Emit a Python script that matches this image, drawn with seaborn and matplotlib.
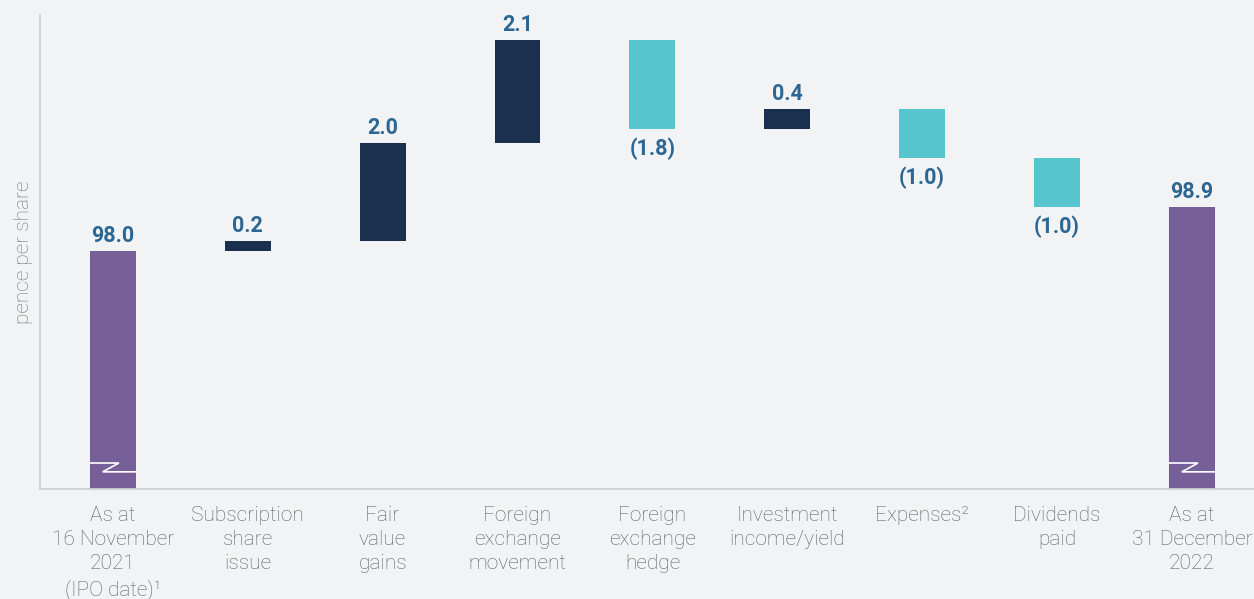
import numpy as np
import pandas as pd
import matplotlib
matplotlib.use("Agg")
import matplotlib.pyplot as plt
import seaborn as sns

# waterfall data (pence per share)
categories = ["As at\n16 November\n2021\n(IPO date)¹", "Subscription\nshare\nissue",
              "Fair\nvalue\ngains", "Foreign\nexchange\nmovement", "Foreign\nexchange\nhedge",
              "Investment\nincome/yield", "Expenses²", "Dividends\npaid",
              "As at\n31 December\n2022"]
changes = [98.0, 0.2, 2.0, 2.1, -1.8, 0.4, -1.0, -1.0, 98.9]
kinds = ["total", "up", "up", "up", "down", "up", "down", "down", "total"]
labels = ["98.0", "0.2", "2.0", "2.1", "(1.8)", "0.4", "(1.0)", "(1.0)", "98.9"]

colors = {"total": "#77609a", "up": "#1b2f4e", "down": "#56c5cd"}
bg = "#f2f3f5"

sns.set_theme(style="white")
plt.rcParams["font.family"] = ["Roboto", "DejaVu Sans"]
plt.rcParams["figure.facecolor"] = bg
plt.rcParams["axes.facecolor"] = bg

# floating bar bases
bases = []
running = 0.0
for v, k in zip(changes, kinds):
    if k == "total":
        bases.append(0.0)
        running = v
    else:
        bases.append(running if v > 0 else running + v)
        running += v
heights = [abs(v) for v in changes]

fig = plt.figure(figsize=(12.54, 5.99), dpi=100)
ax = fig.add_axes([40 / 1254, 110 / 599, 1 - 40 / 1254, 474 / 599])

for cat, h, b, k in zip(categories, heights, bases, kinds):
    sns.barplot(x=[cat], y=[h], bottom=b, order=categories, color=colors[k],
                width=0.34, errorbar=None, saturation=1, linewidth=0, ax=ax)

ylo, yhi = 93.15, 102.82
ax.set_ylim(ylo, yhi)
ax.set_xlim(-0.54, 8.46)

# value labels
for i, (h, b, k, lab) in enumerate(zip(heights, bases, kinds, labels)):
    top = b + h
    if k == "down":
        ax.annotate(lab, (i, b), xytext=(0, -6), textcoords="offset points",
                    ha="center", va="top", fontsize=15.5, fontweight="bold", color="#2c6693")
    else:
        ax.annotate(lab, (i, top), xytext=(0, 3), textcoords="offset points",
                    ha="center", va="bottom", fontsize=15.5, fontweight="bold", color="#2c6693")

# axis break marks on the total bars
for i in [0, 8]:
    y1, y2 = ylo + 0.53, ylo + 0.35
    ax.plot([i - 0.17, i + 0.045, i - 0.075, i + 0.17], [y1, y1, y2, y2],
            color="white", lw=1.2, solid_joinstyle="miter")

ax.set_yticks([])
ax.set_xlabel("")
ax.set_ylabel("pence per share", fontsize=15, color="#767676", fontweight="light", labelpad=5)
ax.tick_params(axis="x", length=0, pad=12)
for t in ax.get_xticklabels():
    t.set_fontsize(15)
    t.set_color("#5e5e5e")
    t.set_fontweight("light")
    t.set_linespacing(1.36)
    t.set_verticalalignment("top")

for s in ["top", "right"]:
    ax.spines[s].set_visible(False)
for s in ["left", "bottom"]:
    ax.spines[s].set_color("#cfd0d4")
    ax.spines[s].set_linewidth(1.3)

fig.savefig("out.png", dpi=100, facecolor=bg)
